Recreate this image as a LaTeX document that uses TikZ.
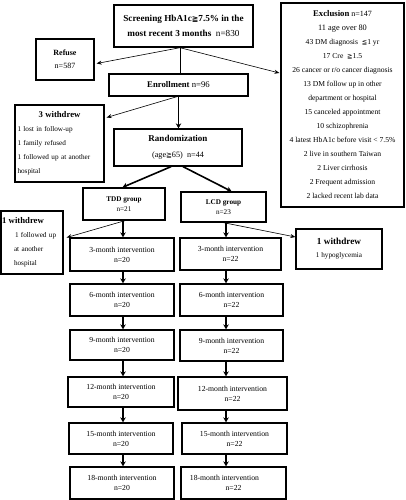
\documentclass[tikz,border=0pt]{standalone}
\usepackage{fontspec}
\setmainfont{Liberation Serif}
\newfontfamily\symf{DejaVu Sans}
\newcommand{\ggeqq}{{\symf\scalebox{0.85}{≧}}}
\newcommand{\lleqq}{{\symf\scalebox{0.85}{≦}}}
\usetikzlibrary{arrows.meta,calc}
\begin{document}
\begin{tikzpicture}[x=1pt,y=-1pt,
  box/.style={draw,line width=1.3pt,inner sep=0pt,align=center},
  thinarr/.style={line width=0.6pt,-{Stealth[length=5pt,width=4pt]}},
  thickarr/.style={line width=1.6pt,-{Stealth[length=5pt,width=5.5pt]}},
  plainline/.style={line width=0.7pt},
  ivt/.style={box,font=\fontsize{7.7}{9.8}\selectfont},
]
\useasboundingbox (0,0) rectangle (406,500);

% top section
\node[box,minimum width=139pt,minimum height=42pt,font=\fontsize{9.2}{15}\selectfont\bfseries] (scr) at (183.5,26)
  {Screening HbA1c\ggeqq7.5\% in the\\
   most recent 3 months{\mdseries\ \ n=830}};
\node[box,minimum width=58pt,minimum height=41pt,font=\fontsize{8}{13}\selectfont] (ref) at (65,59.5)
  {\textbf{Refuse}\\ n=587};
\node[box,minimum width=123pt,minimum height=204pt,font=\fontsize{7.6}{14}\selectfont] (excl) at (342.5,105)
  {{\fontsize{8.7}{14}\selectfont\bfseries Exclusion} {\fontsize{8}{14}\selectfont n=147}\\
   {\fontsize{8.3}{14}\selectfont 11 age over 80}\\
   43 DM diagnosis \ \lleqq1 yr\\
   17 Cre \ \ggeqq1.5\\
   26 cancer or r/o cancer diagnosis\\
   13 DM follow up in other\\
   department or hospital\\
   15 canceled appointment\\
   10 schizophrenia\\
   4 latest HbA1c before visit < 7.5\%\\
   2 live in southern Taiwan\\
   2 Liver cirrhosis\\
   2 Frequent admission\\
   2 lacked recent lab data};
\node[box,minimum width=139pt,minimum height=22pt,font=\fontsize{8.7}{10}\selectfont] (enr) at (178.5,85)
  {\textbf{Enrollment} n=96};
\node[box,minimum width=89pt,minimum height=77pt,align=left,text width=84pt,font=\fontsize{7.2}{14}\selectfont] (wd3) at (59.5,143.5)
  {\makebox[84pt]{\fontsize{8.7}{14}\selectfont\bfseries 3 withdrew}\\
   1 lost in follow-up\\
   1 family refused\\
   1 followed up at another\\
   hospital};
\node[box,minimum width=128pt,minimum height=37pt,font=\fontsize{8.2}{16}\selectfont] (rnd) at (178,147.5)
  {{\fontsize{9}{16}\selectfont\bfseries Randomization}\\
   (age\ggeqq65)\ \ n=44};
\node[box,minimum width=82pt,minimum height=32pt,font=\fontsize{7.2}{9.5}\selectfont] (tdd) at (124,204)
  {\textbf{TDD group}\\ n=21};
\node[box,minimum width=85pt,minimum height=30pt,font=\fontsize{7.2}{9.5}\selectfont] (lcd) at (223.5,207)
  {\textbf{LCD group}\\ n=23};
\node[box,minimum width=62pt,minimum height=63pt,align=left,text width=60pt,font=\fontsize{7.2}{14}\selectfont] (wdl) at (32,242.5)
  {{\fontsize{8.7}{14}\selectfont\bfseries 1 withdrew}\\
   \hspace*{13pt}1 followed up\\
   \hspace*{12pt}at another\\
   \hspace*{12pt}hospital};
\node[box,minimum width=86pt,minimum height=40pt,font=\fontsize{7.2}{13}\selectfont] (wdr) at (339,249)
  {{\fontsize{9.2}{13}\selectfont\bfseries 1 withdrew}\\
   1 hypoglycemia};

% TDD column
\node[ivt,minimum width=104pt,minimum height=33pt] (t3) at (122,254.5) {3-month intervention\\ n=20};
\node[ivt,minimum width=104pt,minimum height=32pt] (t6) at (122,300) {6-month intervention\\ n=20};
\node[ivt,minimum width=104pt,minimum height=30pt] (t9) at (122,345) {9-month intervention\\ n=20};
\node[ivt,minimum width=106pt,minimum height=30pt] (t12) at (121,392) {12-month intervention\\ n=20};
\node[ivt,minimum width=104pt,minimum height=31pt] (t15) at (121,438.5) {15-month intervention\\ n=20};
\node[ivt,minimum width=104pt,minimum height=32pt] (t18) at (122,483) {18-month intervention\\ n=20};

% LCD column
\node[ivt,minimum width=101pt,minimum height=32pt] (l3) at (230.5,254) {3-month intervention\\ n=22};
\node[ivt,minimum width=103pt,minimum height=32pt] (l6) at (231.5,300) {6-month intervention\\ n=22};
\node[ivt,minimum width=103pt,minimum height=31pt] (l9) at (231.5,345.5) {9-month intervention\\ n=22};
\node[ivt,minimum width=109pt,minimum height=33pt] (l12) at (232.5,393.5) {12-month intervention\\ n=22};
\node[ivt,minimum width=105pt,minimum height=31pt] (l15) at (234.5,438.5) {15-month intervention\\ n=22};
\node[ivt,minimum width=105pt,minimum height=32pt] (l18) at (233.5,483) {\hspace*{-18pt}18-month intervention\\ n=22};

% connectors
\coordinate (sp) at (180,47.7);
\coordinate (tx) at (123,0);
\coordinate (lx) at (226,0);
\draw[thinarr] (sp) -- ($(ref.east)+(2,4)$);
\draw[thinarr] (sp) -- ($(excl.west)+(-1,-32)$);
\draw[plainline] (sp) -- (sp |- enr.north);
\draw[thinarr] ($(enr.south)+(-1.5,0)$) -- ($(wd3.east)+(2,-26)$);
\draw[thickarr] (enr.south) -- (enr.south |- rnd.north);
\draw[thickarr] ($(rnd.south)+(-7,0)$) -- ($(tdd.north)+(-1.5,0)$);
\draw[thickarr] ($(rnd.south)+(5,0)$) -- ($(lcd.north)+(8,0)$);
\draw[thinarr] ($(tdd.south)+(1,0)$) -- ($(wdl.east)+(3,-5)$);
\draw[thickarr] (tdd.south -| tx) -- (t3.north -| tx);
\draw[thinarr] (lcd.south) -- ($(wdr.west)+(0,-12)$);
\draw[thickarr] (lcd.south -| lx) -- (l3.north -| lx);
\draw[thickarr] (t3.south -| tx) -- (t6.north -| tx);
\draw[thickarr] (t6.south -| tx) -- (t9.north -| tx);
\draw[thickarr] (t9.south -| tx) -- (t12.north -| tx);
\draw[thickarr] (t12.south -| tx) -- (t15.north -| tx);
\draw[thickarr] (t15.south -| tx) -- (t18.north -| tx);
\draw[thickarr] (l3.south -| lx) -- (l6.north -| lx);
\draw[thickarr] (l6.south -| lx) -- (l9.north -| lx);
\draw[thickarr] (l9.south -| lx) -- (l12.north -| lx);
\draw[thickarr] (l12.south -| lx) -- (l15.north -| lx);
\draw[thickarr] (l15.south -| lx) -- (l18.north -| lx);
\end{tikzpicture}
\end{document}
